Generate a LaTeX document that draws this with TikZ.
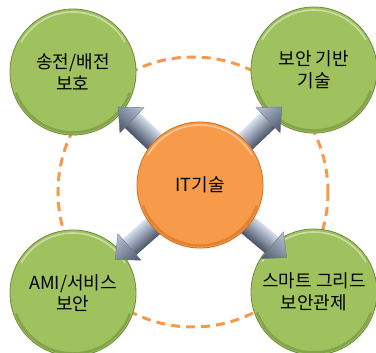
\documentclass[tikz,border=0pt]{standalone}
\usepackage{fontspec}
\newfontfamily\cjk{Noto Sans CJK KR}
\usetikzlibrary{shadows}
\definecolor{grn}{HTML}{9FC25E}
\definecolor{grnd}{HTML}{6E8A3A}
\definecolor{org}{HTML}{F79A4A}
\definecolor{orgd}{HTML}{D0701E}
\definecolor{arlight}{HTML}{E2EAF6}
\definecolor{armid}{HTML}{A9B8CF}
\definecolor{ardark}{HTML}{4A5366}
\definecolor{dashorg}{HTML}{F7994A}
\begin{document}
\begin{tikzpicture}[x=1pt,y=-1pt,
  ball/.style={circle, minimum size=126pt, inner sep=0pt, align=center,
    font=\cjk\fontsize{18}{21.5}\selectfont, text=black,
    circular drop shadow={shadow xshift=1.5pt, shadow yshift=-2pt, opacity=0.35, shadow scale=1.0}},
  greenball/.style={ball, fill=grn, draw=grnd, line width=0.8pt,
    path picture={
      \draw[white, opacity=0.45, line width=1.6pt]
        ([shift={(-30:60)}]path picture bounding box.center) arc (-30:-150:60);
      \draw[grnd, opacity=0.55, line width=2.5pt]
        ([shift={(20:60.5)}]path picture bounding box.center) arc (20:160:60.5);}},
  orangeball/.style={ball, fill=org, draw=orgd, line width=0.8pt,
    path picture={
      \draw[white, opacity=0.45, line width=1.6pt]
        ([shift={(-30:60)}]path picture bounding box.center) arc (-30:-150:60);
      \draw[orgd, opacity=0.55, line width=2.5pt]
        ([shift={(20:60.5)}]path picture bounding box.center) arc (20:160:60.5);}},
  ring/.style={dashorg, line width=3pt, dash pattern=on 9pt off 6pt},
  shaftup/.style={top color=arlight!80!armid, middle color=arlight, bottom color=ardark},
  shaftdown/.style={top color=ardark, middle color=arlight, bottom color=arlight!80!armid},
  headup/.style={top color=armid!70!arlight, middle color=armid!60!ardark, bottom color=ardark, draw=ardark!80, line width=0.4pt},
  headdown/.style={top color=ardark, middle color=armid!60!ardark, bottom color=armid!70!arlight, draw=ardark!80, line width=0.4pt}
]
\useasboundingbox (0,0) rectangle (376,353);
\coordinate (cc) at (200,185);
\coordinate (rc) at (193,192);

% dashed ring
\draw[ring] (rc) circle (135);

% outer topics
\node[greenball] (tl) at (73,72) {송전/배전\\보호};
\node[greenball] (tr) at (314,70) {보안 기반\\기술};
\node[greenball] (bl) at (73,293) {AMI/서비스\\보안};
\node[greenball] (br) at (314,292) {스마트 그리드\\보안관제};

% block arrows from the centre towards each topic
\foreach \ang/\sh/\hd in {136.4/shaftdown/headdown, 43.6/shaftup/headup, 221.3/shaftdown/headdown, -39.9/shaftup/headup} {
  \begin{scope}[transform canvas={shift={(cc)}, rotate=\ang}]
    \shade[\sh] (40,-10.5) -- (96,-10.5) -- (96,10.5) -- (40,10.5) -- cycle;
    \shade[\hd] (94,-17.5) -- (113,0) -- (94,17.5) -- (94,10.5) -- (94,-10.5) -- cycle;
  \end{scope}
}

% centre
\node[orangeball] (c) at (cc) {IT기술};
\end{tikzpicture}
\end{document}
